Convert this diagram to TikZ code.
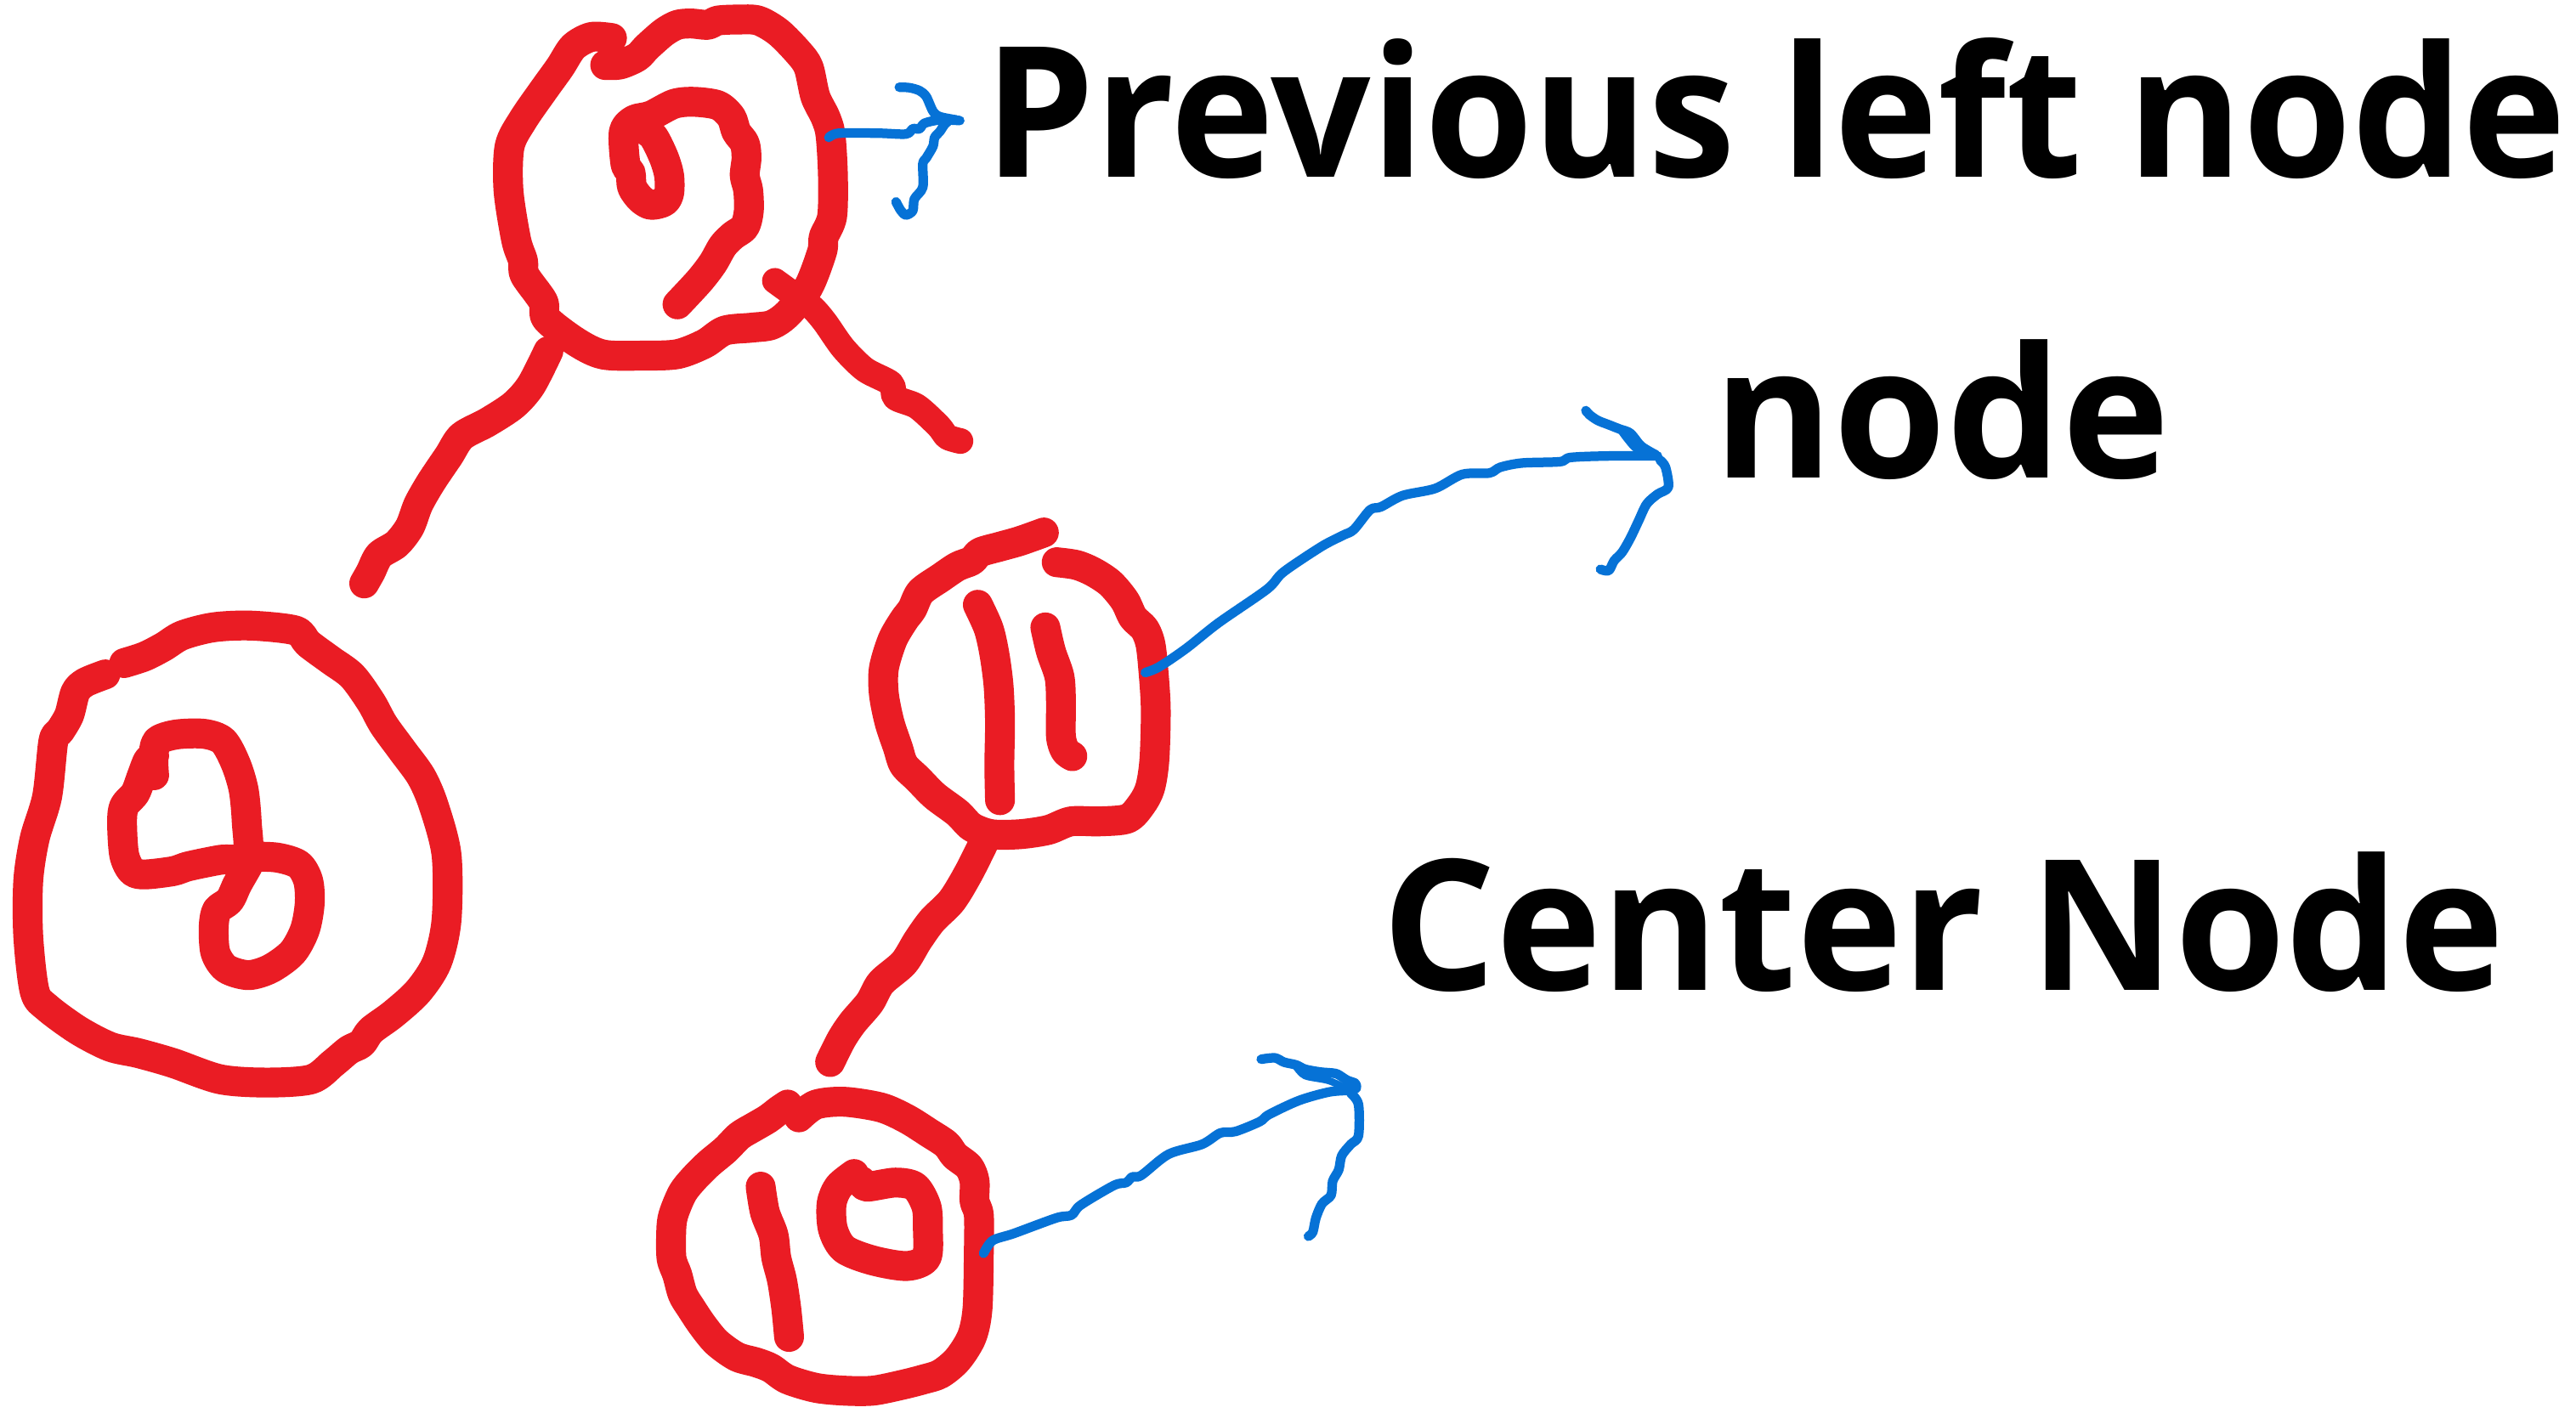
\documentclass[tikz,border=0pt]{standalone}
\usepackage{fontspec}
\setmainfont{Open Sans}
\definecolor{inkred}{RGB}{234,28,36}
\definecolor{inkblue}{RGB}{6,114,214}
\tikzset{
  redink/.style={draw=inkred, line width=10pt, line cap=round, line join=round},
  blueink/.style={draw=inkblue, line width=3.2pt, line cap=round, line join=round},
  lbltext/.style={font=\fontsize{61}{70}\selectfont\bfseries, anchor=base west, inner sep=0pt, text=black},
  treenode/.style={circle, draw=none, inner sep=0pt, minimum size=1cm},
  sk/.style={smooth, tension=0.5}
}
\begin{document}
\begin{tikzpicture}[x=0.019333cm, y=-0.019333cm]
\useasboundingbox (0,0) rectangle (1568,860);
\fill[white] (0,0) rectangle (1568,860);

% invisible tree nodes
\node[treenode] (n9) at (407,115) {};
\node[treenode] (n12) at (145,520) {};
\node[treenode] (n11) at (620,415) {};
\node[treenode] (n10) at (502,760) {};

% labels
\node[lbltext] (tprev) at (599,108) {\scalebox{0.963}[1]{Previous left node}};
\node[lbltext] (tnode) at (1043,291) {node};
\node[lbltext] (tcenter) at (841,602.8) {\scalebox{0.981}[1]{Center Node}};

% connector end points
\coordinate (c9l) at (333.8,213.8);
\coordinate (c12t) at (221.7,355.2);
\coordinate (c9r) at (471.7,171.0);
\coordinate (c9rend) at (584.6,268.5);
\coordinate (c11b) at (600.1,510.4);
\coordinate (c10t) at (505.3,646.6);
\coordinate (b9s) at (504.5,83.7);
\coordinate (b9t) at (584.2,73.4);
\coordinate (b11s) at (697.1,409.5);
\coordinate (b11t) at (1008.9,277.6);
\coordinate (b10s) at (598.7,763.1);
\coordinate (b10t) at (822.2,663.9);

% ---------- top circle (9) ----------
\draw[redink] plot[sk] coordinates {(372.5,23.2) (360,22.5) (349,28.5) (340.8,41.0) (330.6,55.2) (318.3,73.0) (310.2,89.1) (309.5,115.8) (314.2,146.1) (318.3,158.6) (319.4,167.5) (330.6,183.5) (332.7,194.2) (351.1,208.4) (367.4,215.9) (392.0,216.5) (412.4,215.6) (428.8,209.3) (441.1,201.3) (457.4,199.5) (469.7,197.8) (479.9,190.6) (492.2,174.6) (500.4,153.2) (501.4,144.3) (506.5,131.8) (507,106.9) (505.5,82.0) (502.4,71.3) (496.3,58.8) (492.2,41.0) (486.1,32.1) (473.8,19.6) (461.5,12.5) (449.2,11.9) (437.0,12.5) (430.8,15.1) (420.6,14.3) (412.4,15.1) (404.2,19.6) (394.0,28.5) (387.9,34.7) (377.6,39.2) (368.4,39.6)};
\draw[redink] plot[sk] coordinates {(392.0,78.4) (398.1,83.7) (404.2,96.2) (407.3,106.9) (407.3,117.6) (404.2,122.9) (396.1,124.7) (389.9,121.1) (384.8,114.0) (383.8,105.1) (380.7,99.8) (379.7,80.2) (385.8,73.0) (396.1,70.4) (410.4,63.2) (422.6,62.0) (437.0,64.1) (445.1,71.3) (448.2,80.2) (453.3,87.3) (454.4,96.2) (453.3,106.9) (455.4,115.8) (455.8,128.3) (453.3,138.1) (446.2,143.4) (440.0,149.7) (433.9,160.3) (425.7,171.0) (412.4,185.3)};

% ---------- left circle ----------
\draw[redink] plot[sk] coordinates {(75.6,403.7) (88.0,399.7) (99.5,393.8) (111.0,386.8) (130.1,381.9) (153.1,380.9) (179.9,383.9) (187.6,391.8) (201.0,401.7) (214.4,411.6) (225.8,427.4) (233.5,441.3) (245.0,457.1) (256.5,473.0) (264.1,490.8) (271.8,520.5) (271.8,560.1) (266.0,585.8) (254.5,603.6) (239.2,617.5) (225.8,627.4) (220.1,635.3) (212.4,639.3) (202.9,647.2) (189.5,657.1) (162.7,659.1) (134.0,657.1) (105.3,647.2) (84.2,641.2) (67.0,637.3) (47.8,627.4) (28.7,613.5) (21.1,603.6) (17.2,570.0) (17.2,536.3) (21.1,510.6) (28.7,484.9) (32.5,451.2) (36.4,445.3) (42.1,435.4) (45.9,421.5) (51.7,415.6) (64.1,410.6)};
\draw[redink] plot[sk] coordinates {(93.8,472.0) (93.4,461.1) (95.7,451.2) (107.2,447.2) (124.4,446.8) (135.9,451.2) (143.5,465.0) (148.3,480.9) (150.2,500.7) (150.2,521.5) (134.0,523.5) (114.8,527.4) (105.3,530.4) (88.0,532.4) (80.4,530.4) (75.6,520.5) (74.3,500.7) (75.6,490.8) (82.3,482.9) (86.1,473.0) (90.0,463.1) (93.8,460.1)};
\draw[redink] plot[sk] coordinates {(150.2,521.5) (168.4,522.1) (181.8,526.4) (187.6,536.3) (188.5,550.2) (185.6,566.0) (178.0,579.9) (164.6,589.8) (151.2,593.7) (137.8,589.8) (131.1,579.9) (130.1,564.0) (132.1,554.1) (139.7,548.2) (144.5,538.3) (151.2,526.4) (153.1,520.5)};

% ---------- middle circle (11) ----------
\draw[redink] plot[sk] coordinates {(635.4,324.2) (620.8,329.4) (608.7,332.8) (596.6,336.3) (591.5,341.4) (582.8,344.9) (572.5,351.8) (560.4,360.4) (555.2,370.8) (550.1,377.7) (543.2,389.7) (538.0,407.0) (538.0,422.5) (541.4,439.7) (546.6,455.3) (550.1,465.6) (558.7,474.2) (569.0,484.6) (582.8,494.9) (591.5,503.5) (603.5,507.9) (620.8,507.9) (638.0,505.3) (651.8,500.1) (669.1,500.1) (686.3,498.4) (694.9,489.7) (700.1,479.4) (702.7,462.2) (703.5,431.1) (701.8,405.2) (700.1,391.4) (696.6,382.8) (689.7,375.9) (684.6,365.6) (675.9,355.2) (665.6,348.3) (655.3,344.0) (643.2,342.3)};
\draw[redink] plot[sk] coordinates {(595.2,368.2) (601.8,382.8) (605.3,398.3) (607.8,417.3) (608.7,439.7) (608.3,465.6) (608.7,487.2)};
\draw[redink] plot[sk] coordinates {(636.3,382.0) (639.7,396.6) (644.9,412.1) (645.8,427.7) (645.8,448.4) (648.4,457.0) (652.7,460.4)};

% ---------- bottom circle (10) ----------
\draw[redink] plot[sk] coordinates {(486.3,680.3) (496.7,672.5) (513.9,670.8) (536.3,674.3) (551.9,681.2) (565.6,689.8) (576.0,696.7) (581.2,703.6) (589.8,710.5) (593.2,719.1) (593.2,731.2) (595.8,739.8) (595.8,762.2) (595.0,796.7) (591.5,813.9) (582.9,827.7) (572.5,836.4) (562.2,839.8) (548.4,843.3) (531.2,846.7) (513.9,846.7) (496.7,845.0) (479.4,839.8) (469.1,832.9) (460.4,829.5) (448.4,826.0) (436.3,817.4) (427.7,807.0) (420.8,796.7) (415.6,788.1) (412.2,776.0) (408.7,765.7) (408.7,746.7) (410.4,738.1) (415.6,726.0) (422.5,717.4) (431.1,708.8) (441.5,700.1) (450.1,691.5) (458.7,686.3) (467.4,681.2) (474.2,676.0) (479.4,672.5)};
\draw[redink] plot[sk] coordinates {(463.0,722.5) (465.6,738.1) (470.8,751.9) (472.5,765.7) (476.0,779.5) (478.6,796.7) (480.3,814.0)};
\draw[redink] plot[sk] coordinates {(519.9,714.8) (510.5,722.5) (506.2,732.9) (507.0,748.4) (513.9,760.5) (531.2,767.4) (551.9,770.8) (563.9,765.7) (564.8,748.4) (563.9,734.6) (557.0,722.5) (544.9,720.0) (527.7,722.5) (524.3,719.1)};

% ---------- red connectors ----------
\draw[redink] plot[sk] coordinates {(c9l) (323.3,234.5) (312.7,246.6) (296.9,257.0) (281.1,265.6) (273.1,277.6) (262.6,293.2) (254.7,307.0) (249.4,320.8) (241.5,331.1) (230.9,338.0) (225.6,348.3) (c12t)};
\draw[redink, line width=8.6pt] plot[sk] coordinates {(c9r) (484.0,179.9) (494.2,187.1) (502,196) (513.3,212) (526.5,225.0) (542.3,233.5) (545.0,242) (558.2,247.5) (571.4,259.5) (576.6,266) (c9rend)};
\draw[redink] plot[sk] coordinates {(c11b) (589.8,531.1) (579.4,548.3) (567.4,560.4) (558.7,572.5) (550.1,586.3) (536.3,598.3) (529.4,610.4) (519.1,622.5) (512.2,632.8) (c10t)};

% ---------- blue arrows ----------
\draw[blueink] plot[sk] coordinates {(b9s) (510.6,81.1) (535.2,81.1) (551.5,81.6) (555.6,78.4) (559.7,78.4) (562.8,75) (572.0,73.0) (b9t)};
\draw[blueink] plot[sk] coordinates {(582,73) (572,71) (567.9,67.7) (563.8,58.8) (559.7,55.2) (553.6,53.4) (547.4,53.1)};
\draw[blueink] plot[sk] coordinates {(577,74) (575.0,75.7) (572.0,80.2) (568.9,83.7) (567.9,89.1) (563.8,96.2) (561.7,99.8) (561.7,114.0) (556.6,121.1) (555.6,128.3) (551.5,130.9) (548.4,128.3) (545.4,122.9)};

\draw[blueink] plot[sk] coordinates {(b11s) (705.4,406.1) (721.9,394.9) (741.6,379.3) (771.3,358.7) (781.2,348.3) (804.3,332.8) (817.5,325.9) (824.1,322.4) (834.0,310.4) (840.6,308.6) (853.8,301.7) (873.6,297.4) (890.1,288.8) (906.6,288.0) (913.2,284.5) (926.4,281.9) (949.5,281.1) (956.1,278.5) (979.2,277.6) (b11t)};
\draw[blueink] plot[sk] coordinates {(1008,277) (999.0,271.6) (992.4,263.8) (985.8,261.2) (979.2,258.6) (972.6,256.0) (967.6,252.6) (965.3,250.0)};
\draw[blueink, line width=2.2pt] plot[sk] coordinates {(985.8,261.2) (990,267) (996,273.5) (1006,277)};
\draw[blueink] plot[sk] coordinates {(1010.5,280.2) (1013.8,284.5) (1015.5,296.6) (1008.9,300.9) (1002.3,306.9) (997.3,317.3) (992.4,327.6) (987.4,336.2) (982.5,341.4) (979.2,347.4) (974.2,346.6)};

\draw[blueink] plot[sk] coordinates {(b10s) (604.2,755.3) (617.1,751.0) (643.0,741.5) (652.2,739.8) (657.8,733.7) (678.1,721.7) (685.5,720.0) (689.2,716.5) (694.7,715.6) (711.4,702.7) (731.7,696.7) (742.8,689.8) (752.0,688.9) (766.8,682.9) (772.4,678.6) (790.8,670.0) (809.3,664.8) (b10t)};
\draw[blueink] plot[sk] coordinates {(822.2,663.9) (825.5,662.5) (825.0,659.6) (820.4,657.9) (817.6,656.2) (813.0,653.6) (803.8,652.7) (794.5,651.0) (789.0,648.4) (781.6,646.7) (776.1,644.1) (767.7,644.9)};
\draw[blueink, line width=2.4pt] plot[sk] coordinates {(789,649.5) (794.5,655) (809,658) (822,664)};
\draw[blueink] plot[sk] coordinates {(822.2,665.6) (826.9,672.5) (826.9,691.5) (822.2,696.7) (816.7,703.6) (814.9,712.2) (811.2,719.1) (810.2,727.7) (804.7,732.9) (801.0,741.5) (799.1,750.1) (796.4,752.7)};
\end{tikzpicture}
\end{document}
